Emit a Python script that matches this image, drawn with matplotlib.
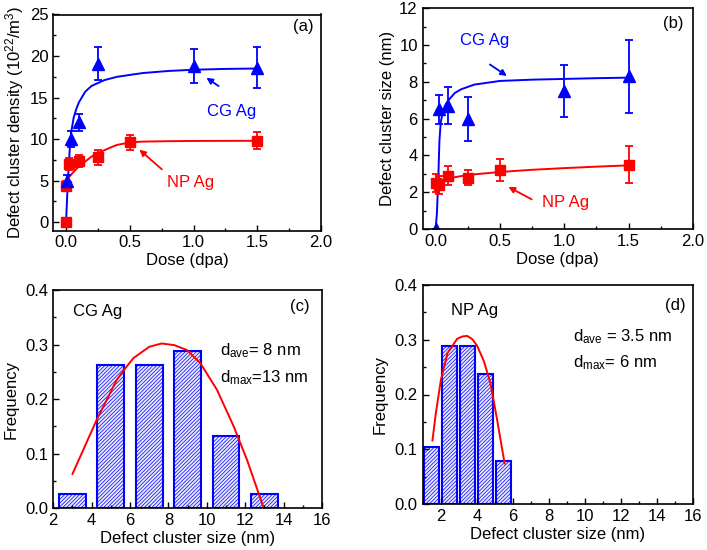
import numpy as np
import matplotlib
matplotlib.use("Agg")
import matplotlib.pyplot as plt
from matplotlib.ticker import MultipleLocator

plt.rcParams['font.family'] = ['Liberation Sans', 'DejaVu Sans']
plt.rcParams['font.size'] = 12
plt.rcParams['mathtext.default'] = 'regular'
plt.rcParams['hatch.linewidth'] = 0.5

BLUE = '#0000ff'
RED = '#ff0000'

# ---------------- Data ----------------
# (a) Defect cluster density vs dose
a_cg_x = [0.01, 0.04, 0.1, 0.25, 1.0, 1.5]
a_cg_y = [5.0, 10.0, 12.0, 19.1, 18.8, 18.6]
a_cg_err = [0.7, 1.0, 1.0, 2.0, 2.0, 2.5]
a_np_x = [0.0, 0.0, 0.025, 0.1, 0.25, 0.5, 1.5]
a_np_y = [0.0, 4.4, 7.0, 7.4, 7.8, 9.6, 9.8]
a_np_err = [0.0, 0.5, 0.7, 0.7, 0.9, 0.9, 1.0]
a_cg_fit_x = [0, 0.01, 0.02, 0.03, 0.04, 0.06, 0.08, 0.1, 0.15, 0.2, 0.3, 0.4, 0.6, 0.8, 1.0, 1.25, 1.5]
a_cg_fit_y = [0, 3.5, 6.5, 9.0, 10.8, 12.6, 13.6, 14.4, 15.7, 16.4, 17.1, 17.5, 17.95, 18.2, 18.35, 18.45, 18.5]
a_np_fit_x = [0, 0.05, 0.1, 0.15, 0.2, 0.27, 0.35, 0.4, 0.5, 0.6, 0.8, 1.0, 1.5]
a_np_fit_y = [5.0, 5.9, 6.7, 7.3, 7.9, 8.45, 9.0, 9.3, 9.6, 9.7, 9.75, 9.78, 9.8]

# (b) Defect cluster size vs dose
b_cg_x = [0.0, 0.025, 0.1, 0.25, 1.0, 1.5]
b_cg_y = [0.0, 6.5, 6.7, 6.0, 7.5, 8.3]
b_cg_err = [0.0, 0.8, 1.0, 1.2, 1.4, 2.0]
b_np_x = [0.0, 0.025, 0.1, 0.25, 0.5, 1.5]
b_np_y = [2.5, 2.4, 2.9, 2.8, 3.2, 3.5]
b_np_err = [0.5, 0.5, 0.5, 0.4, 0.6, 1.0]
b_cg_fit_x = [0, 0.01, 0.02, 0.03, 0.04, 0.06, 0.08, 0.1, 0.15, 0.2, 0.3, 0.5, 0.75, 1.0, 1.25, 1.5]
b_cg_fit_y = [0, 0.8, 2.5, 4.8, 5.8, 6.5, 6.8, 7.0, 7.4, 7.6, 7.85, 8.05, 8.12, 8.16, 8.2, 8.23]
b_np_fit_x = [0, 0.05, 0.1, 0.2, 0.3, 0.5, 0.75, 1.0, 1.25, 1.5]
b_np_fit_y = [2.5, 2.65, 2.75, 2.88, 2.97, 3.1, 3.22, 3.31, 3.39, 3.46]

# (c) CG Ag size distribution
c_bins = [3, 5, 7, 9, 11, 13]
c_freq = [0.026, 0.263, 0.263, 0.289, 0.132, 0.026]
c_fit_x = [3.0, 4.26, 5.3, 5.74, 6.17, 7.0, 7.65, 8.3, 8.96, 9.66, 10.53, 11.4, 12.09, 12.94]
c_fit_y = [0.063, 0.162, 0.235, 0.256, 0.275, 0.296, 0.302, 0.299, 0.290, 0.266, 0.217, 0.150, 0.089, 0.003]

# (d) NP Ag size distribution
d_bins = [1.5, 2.5, 3.5, 4.5, 5.5]
d_freq = [0.105, 0.289, 0.289, 0.237, 0.079]
d_fit_x = [1.54, 1.73, 2.01, 2.38, 2.65, 2.92, 3.2, 3.47, 3.75, 4.02, 4.4, 4.76, 5.13, 5.54]
d_fit_y = [0.116, 0.166, 0.227, 0.276, 0.289, 0.302, 0.306, 0.307, 0.301, 0.289, 0.26, 0.22, 0.153, 0.074]

# ---------------- Figure ----------------
fig = plt.figure(figsize=(7.07, 5.5), dpi=100)
W, H = 707, 550

def add_ax(l, r, t, b):
    return fig.add_axes([l / W, (H - b) / H, (r - l) / W, (b - t) / H])

ax_a = add_ax(53.3, 321.0, 14.5, 230.5)
ax_b = add_ax(422.7, 693.0, 8.3, 229.0)
ax_c = add_ax(53.3, 322.0, 290.0, 508.3)
ax_d = add_ax(422.7, 693.3, 285.0, 504.0)

def style(ax):
    for s in ax.spines.values():
        s.set_linewidth(1.2)
    ax.tick_params(which='both', direction='in', top=False, right=False, width=1.0, labelsize=12)
    ax.tick_params(which='major', length=4.5)
    ax.tick_params(which='minor', length=2.5)

ebkw = dict(capsize=3, elinewidth=1.3, capthick=1.3, linestyle='none')

# (a)
ax = ax_a
ax.plot(a_cg_fit_x, a_cg_fit_y, color=BLUE, lw=1.4)
ax.plot(a_np_fit_x, a_np_fit_y, color=RED, lw=1.4)
ax.errorbar(a_np_x, a_np_y, yerr=a_np_err, fmt='s', color=RED, ms=7, **ebkw)
ax.errorbar(a_cg_x, a_cg_y, yerr=a_cg_err, fmt='^', color=BLUE, ms=8.5, **ebkw)
ax.set_xlim(-0.1, 2.0)
ax.set_ylim(-1, 25)
ax.xaxis.set_major_locator(MultipleLocator(0.5))
ax.xaxis.set_minor_locator(MultipleLocator(0.25))
ax.yaxis.set_major_locator(MultipleLocator(5))
ax.yaxis.set_minor_locator(MultipleLocator(2.5))
ax.xaxis.set_major_formatter(matplotlib.ticker.FormatStrFormatter('%.1f'))
ax.set_xlabel('Dose (dpa)', labelpad=2)
ax.set_ylabel('Defect cluster density (10$^{22}$/m$^{3}$)', labelpad=3)
ax.text(1.865, 23.5, '(a)', ha='center', va='center')
ax.text(1.295, 13.3, 'CG Ag', color=BLUE, ha='center', va='center')
ax.annotate('', xy=(1.083, 17.57), xytext=(1.215, 16.2),
            arrowprops=dict(arrowstyle='-|>', color=BLUE, lw=1.3, mutation_scale=9))
ax.text(0.98, 4.8, 'NP Ag', color=RED, ha='center', va='center')
ax.annotate('', xy=(0.559, 8.95), xytext=(0.768, 6.14),
            arrowprops=dict(arrowstyle='-|>', color=RED, lw=1.3, mutation_scale=9))
style(ax)

# (b)
ax = ax_b
ax.plot(b_cg_fit_x, b_cg_fit_y, color=BLUE, lw=1.4)
ax.plot(b_np_fit_x, b_np_fit_y, color=RED, lw=1.4)
ax.errorbar(b_np_x, b_np_y, yerr=b_np_err, fmt='s', color=RED, ms=7, **ebkw)
ax.errorbar(b_cg_x, b_cg_y, yerr=b_cg_err, fmt='^', color=BLUE, ms=8.5, **ebkw)
ax.set_xlim(-0.1, 2.0)
ax.set_ylim(0, 12)
ax.xaxis.set_major_locator(MultipleLocator(0.5))
ax.xaxis.set_minor_locator(MultipleLocator(0.25))
ax.yaxis.set_major_locator(MultipleLocator(2))
ax.yaxis.set_minor_locator(MultipleLocator(1))
ax.xaxis.set_major_formatter(matplotlib.ticker.FormatStrFormatter('%.1f'))
ax.set_xlabel('Dose (dpa)', labelpad=2)
ax.set_ylabel('Defect cluster size (nm)', labelpad=3)
ax.text(1.848, 11.15, '(b)', ha='center', va='center')
ax.text(0.379, 10.27, 'CG Ag', color=BLUE, ha='center', va='center')
ax.annotate('', xy=(0.572, 8.24), xytext=(0.404, 9.03),
            arrowprops=dict(arrowstyle='-|>', color=BLUE, lw=1.3, mutation_scale=9))
ax.text(1.011, 1.45, 'NP Ag', color=RED, ha='center', va='center')
ax.annotate('', xy=(0.547, 2.36), xytext=(0.766, 1.54),
            arrowprops=dict(arrowstyle='-|>', color=RED, lw=1.3, mutation_scale=9))
style(ax)

# (c)
ax = ax_c
ax.bar(c_bins, c_freq, width=1.4, facecolor='#e8e8fb', edgecolor=BLUE, lw=1.5, hatch='/////////')
ax.plot(c_fit_x, c_fit_y, color=RED, lw=1.4)
ax.set_xlim(2, 16)
ax.set_ylim(0, 0.4)
ax.xaxis.set_major_locator(MultipleLocator(2))
ax.xaxis.set_minor_locator(MultipleLocator(1))
ax.yaxis.set_major_locator(MultipleLocator(0.1))
ax.yaxis.set_minor_locator(MultipleLocator(0.05))
ax.yaxis.set_major_formatter(matplotlib.ticker.FormatStrFormatter('%.1f'))
ax.set_xlabel('Defect cluster size (nm)', labelpad=2)
ax.set_ylabel('Frequency', labelpad=5)
ax.text(3.04, 0.361, 'CG Ag', ha='left', va='center')
ax.text(14.86, 0.369, '(c)', ha='center', va='center')
ax.text(10.69, 0.288, 'd$_{ave}$= 8 nm', ha='left', va='center')
ax.text(10.69, 0.239, 'd$_{max}$=13 nm', ha='left', va='center')
style(ax)

# (d)
ax = ax_d
ax.bar(d_bins, d_freq, width=0.82, facecolor='#e8e8fb', edgecolor=BLUE, lw=1.5, hatch='/////////')
ax.plot(d_fit_x, d_fit_y, color=RED, lw=1.4)
ax.set_xlim(1, 16)
ax.set_ylim(0, 0.4)
ax.xaxis.set_major_locator(MultipleLocator(2))
ax.xaxis.set_minor_locator(MultipleLocator(1))
ax.yaxis.set_major_locator(MultipleLocator(0.1))
ax.yaxis.set_minor_locator(MultipleLocator(0.05))
ax.yaxis.set_major_formatter(matplotlib.ticker.FormatStrFormatter('%.1f'))
ax.set_xlabel('Defect cluster size (nm)', labelpad=2)
ax.set_ylabel('Frequency', labelpad=5)
ax.text(2.55, 0.354, 'NP Ag', ha='left', va='center')
ax.text(14.98, 0.363, '(d)', ha='center', va='center')
ax.text(9.33, 0.306, 'd$_{ave}$ = 3.5 nm', ha='left', va='center')
ax.text(9.33, 0.258, 'd$_{max}$= 6 nm', ha='left', va='center')
style(ax)

fig.savefig('out.png', dpi=100)
